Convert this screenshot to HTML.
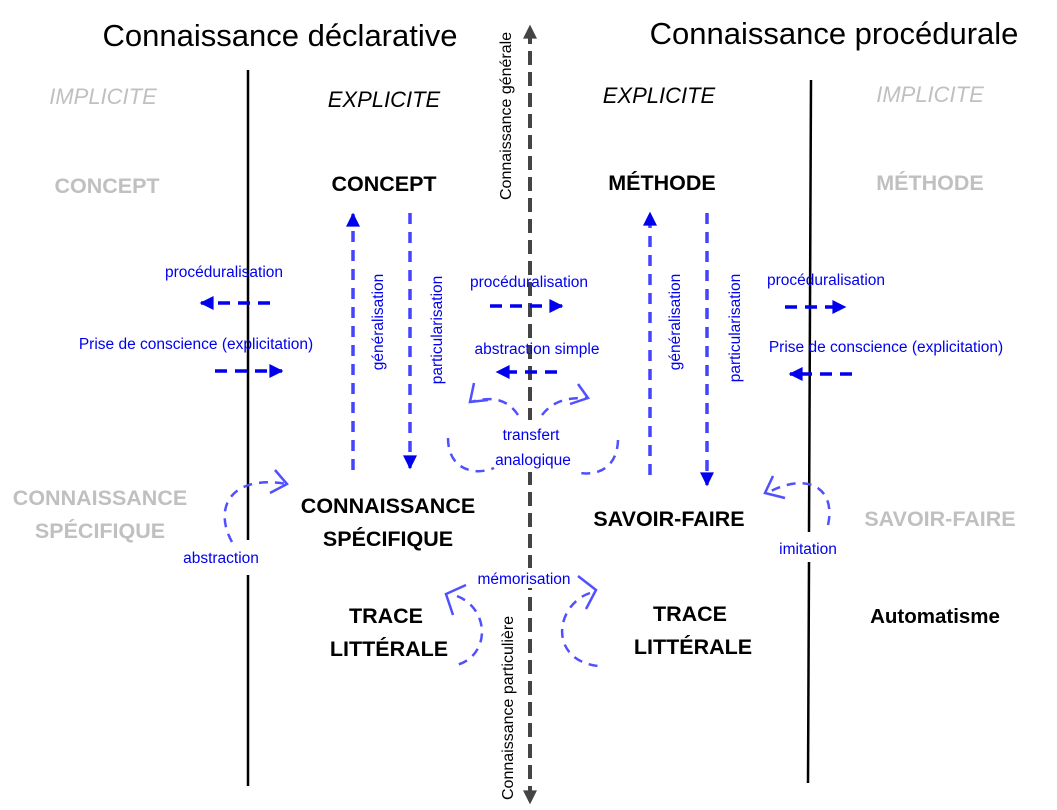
<!DOCTYPE html>
<html><head><meta charset="utf-8"><style>
html,body{margin:0;padding:0;background:#fff;}
svg{display:block;}
text{font-family:"Liberation Sans",sans-serif;}
</style></head><body>
<svg width="1057" height="810" viewBox="0 0 1057 810" xmlns="http://www.w3.org/2000/svg">
<defs>
<marker id="ab" viewBox="0 0 10 10" refX="9" refY="5" markerWidth="4.2" markerHeight="4" orient="auto"><path d="M0,0 L10,5 L0,10 Z" fill="#0000ee"/></marker>
<marker id="ag" viewBox="0 0 10 10" refX="9" refY="5" markerWidth="4" markerHeight="3.5" orient="auto"><path d="M0,0 L10,5 L0,10 Z" fill="#444"/></marker>
</defs>
<text x="280" y="46" font-size="31" text-anchor="middle">Connaissance déclarative</text>
<text x="834" y="44" font-size="31" text-anchor="middle">Connaissance procédurale</text>
<line x1="248" y1="70" x2="248" y2="540" stroke="#000" stroke-width="2.5"/>
<line x1="248" y1="575" x2="248" y2="786" stroke="#000" stroke-width="2.5"/>
<line x1="811" y1="80" x2="809" y2="532" stroke="#000" stroke-width="2.5"/>
<line x1="809" y1="562" x2="808" y2="783" stroke="#000" stroke-width="2.5"/>
<line x1="530" y1="800" x2="530" y2="26" stroke="#444" stroke-width="4" stroke-dasharray="12,9" marker-end="url(#ag)"/>
<line x1="530" y1="30" x2="530" y2="803" stroke="#444" stroke-width="4" stroke-dasharray="12,9" marker-end="url(#ag)"/>
<rect x="488" y="420" width="85" height="52" fill="#fff"/>
<rect x="468" y="568" width="122" height="20" fill="#fff"/>
<text transform="translate(511,200) rotate(-90)" font-size="16" fill="#000">Connaissance générale</text>
<text transform="translate(513,800) rotate(-90)" font-size="16" fill="#000">Connaissance particulière</text>
<g font-size="22" font-style="italic" text-anchor="middle">
<text x="103" y="104" fill="#c0c0c0">IMPLICITE</text>
<text x="384" y="107" fill="#000">EXPLICITE</text>
<text x="659" y="103" fill="#000">EXPLICITE</text>
<text x="930" y="102" fill="#c0c0c0">IMPLICITE</text>
</g>
<g font-size="21.5" font-weight="bold" text-anchor="middle">
<text x="107" y="193" fill="#c0c0c0">CONCEPT</text>
<text x="384" y="191" fill="#000">CONCEPT</text>
<text x="662" y="190" fill="#000">MÉTHODE</text>
<text x="930" y="190" fill="#c0c0c0">MÉTHODE</text>
<text x="100" y="505" fill="#c0c0c0">CONNAISSANCE</text>
<text x="100" y="538" fill="#c0c0c0">SPÉCIFIQUE</text>
<text x="388" y="513" fill="#000">CONNAISSANCE</text>
<text x="388" y="546" fill="#000">SPÉCIFIQUE</text>
<text x="669" y="526" fill="#000">SAVOIR-FAIRE</text>
<text x="940" y="526" fill="#c0c0c0">SAVOIR-FAIRE</text>
<text x="386" y="623" fill="#000">TRACE</text>
<text x="389" y="656" fill="#000">LITTÉRALE</text>
<text x="690" y="621" fill="#000">TRACE</text>
<text x="693" y="654" fill="#000">LITTÉRALE</text>
<text x="935" y="623" fill="#000" font-size="20.5">Automatisme</text>
</g>
<g stroke="#4444ff" stroke-width="3.5" stroke-dasharray="11,8" fill="none">
<line x1="353" y1="470" x2="353" y2="214" marker-end="url(#ab)"/>
<line x1="410" y1="213" x2="410" y2="468" marker-end="url(#ab)"/>
<line x1="650" y1="475" x2="650" y2="213" marker-end="url(#ab)"/>
<line x1="707" y1="213" x2="707" y2="485" marker-end="url(#ab)"/>
</g>
<g stroke="#0000ee" stroke-width="3.5" stroke-dasharray="12,8" fill="none">
<line x1="270" y1="303" x2="201" y2="303" marker-end="url(#ab)"/>
<line x1="215" y1="371" x2="282" y2="371" marker-end="url(#ab)"/>
<line x1="490" y1="306" x2="562" y2="306" marker-end="url(#ab)"/>
<line x1="557" y1="372" x2="497" y2="372" marker-end="url(#ab)"/>
<line x1="785" y1="307" x2="845" y2="307" marker-end="url(#ab)"/>
<line x1="852" y1="374" x2="790" y2="374" marker-end="url(#ab)"/>
</g>
<g font-size="15.5" fill="#0000ee" text-anchor="middle">
<text x="224" y="277">procéduralisation</text>
<text x="196" y="349">Prise de conscience (explicitation)</text>
<text x="529" y="287">procéduralisation</text>
<text x="537" y="354">abstraction simple</text>
<text x="826" y="285">procéduralisation</text>
<text x="886" y="352">Prise de conscience (explicitation)</text>
<text x="531" y="440">transfert</text>
<text x="533" y="465">analogique</text>
<text x="221" y="563">abstraction</text>
<text x="808" y="554">imitation</text>
<text x="524" y="584">mémorisation</text>
<text transform="translate(383,322) rotate(-90)">généralisation</text>
<text transform="translate(442,330) rotate(-90)">particularisation</text>
<text transform="translate(680,322) rotate(-90)">généralisation</text>
<text transform="translate(740,328) rotate(-90)">particularisation</text>
</g>
<g stroke="#5050ff" stroke-width="2.5" fill="none">
<g stroke-dasharray="9,7">
<path d="M232,542 C214,510 228,474 287,484"/>
<path d="M828,525 C836,490 810,470 767,493"/>
<path d="M518,415 C505,395 485,398 471,402"/>
<path d="M448,438 C448,470 475,476 494,468"/>
<path d="M542,415 C556,397 575,398 588,398"/>
<path d="M618,440 C617,470 595,477 575,472"/>
<path d="M457,596 C492,610 490,660 452,666"/>
<path d="M590,593 C555,605 548,660 598,666"/>
</g>
<path d="M275,470 L287,484 L270,493"/>
<path d="M773,476 L765,493 L785,498"/>
<path d="M474,383 L470,402 L488,400"/>
<path d="M578,384 L588,398 L570,404"/>
<path d="M466,585 L446,594 L453,615"/>
<path d="M578,576 L596,590 L586,609"/>
</g>
</svg>
</body></html>
